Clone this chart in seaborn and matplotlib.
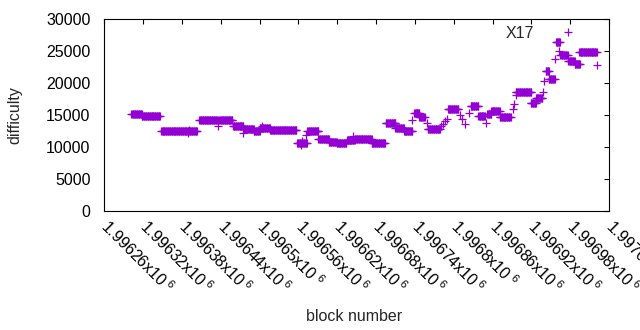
import numpy as np
import pandas as pd
import matplotlib
matplotlib.use("Agg")
import matplotlib.pyplot as plt
from matplotlib.lines import Line2D
import seaborn as sns

# runs of consecutive blocks that share (roughly) one difficulty
run_start = [1996302, 1996318, 1996348, 1996389, 1996391, 1996407, 1996436, 1996438,
             1996459, 1996475, 1996476, 1996491, 1996500, 1996504, 1996516, 1996558,
             1996564, 1996566, 1996572, 1996574, 1996591, 1996607, 1996619, 1996635,
             1996645, 1996647, 1996673, 1996695, 1996710, 1996723, 1996736, 1996739,
             1996747, 1996758, 1996760, 1996781, 1996784, 1996787, 1996789, 1996791,
             1996809, 1996813, 1996817, 1996824, 1996826, 1996838, 1996850, 1996852,
             1996858, 1996871, 1996892, 1996893, 1996896, 1996896, 1996919, 1996927,
             1996938, 1996940, 1996942, 1996947, 1996957, 1996958, 1996963, 1996965,
             1996977, 1996987, 1996994, 1997021]
run_end = [1996318, 1996346, 1996403, 1996389, 1996391, 1996435, 1996436, 1996458,
           1996475, 1996475, 1996491, 1996500, 1996516, 1996504, 1996557, 1996573,
           1996564, 1996566, 1996572, 1996591, 1996607, 1996619, 1996634, 1996647,
           1996645, 1996673, 1996694, 1996710, 1996723, 1996736, 1996736, 1996747,
           1996755, 1996758, 1996779, 1996781, 1996784, 1996787, 1996789, 1996807,
           1996809, 1996813, 1996817, 1996824, 1996838, 1996848, 1996850, 1996858,
           1996871, 1996888, 1996892, 1996893, 1996896, 1996920, 1996927, 1996937,
           1996938, 1996940, 1996947, 1996956, 1996957, 1996964, 1996963, 1996976,
           1996987, 1996995, 1997021, 1997021]
run_difficulty = [15150, 14850, 12450, 12140, 12730, 14170, 13330, 14170,
                  13230, 12230, 12860, 12500, 13020, 13280, 12600, 10550,
                  10250, 10900, 11900, 12500, 11200, 10800, 10580, 11090,
                  11720, 11200, 10550, 13700, 12920, 12450, 14170, 15260,
                  14730, 13700, 12760, 13280, 13590, 14060, 14400, 15890,
                  15000, 14300, 13600, 15260, 16400, 14840, 13800, 15150,
                  15670, 14730, 15900, 16720, 18125, 18550, 16830, 17600,
                  18640, 20360, 21920, 20625, 23750, 26460, 25050, 24380,
                  23440, 22970, 24800, 22810]

blocks = []
difficulty = []
for s, e, d in zip(run_start, run_end, run_difficulty):
    for b in range(s, e + 1):
        blocks.append(b)
        difficulty.append(d)
df = pd.DataFrame({"block": blocks, "difficulty": difficulty})

x_ticks = [1996260 + 60 * k for k in range(14)]
y_ticks = [0, 5000, 10000, 15000, 20000, 25000, 30000]

sns.set_style("white")
plt.rcParams['font.family'] = ['Liberation Sans', 'DejaVu Sans']
plt.rcParams['mathtext.fontset'] = 'custom'
plt.rcParams['mathtext.rm'] = 'Liberation Sans'
plt.rcParams['mathtext.it'] = 'Liberation Sans'

purple = '#9400D3'
fs = 11.5

fig = plt.figure(figsize=(6.4, 3.3), dpi=100)
ax = fig.add_axes([0.163, 0.3606, 0.7886, 0.5818])

sns.scatterplot(data=df, x="block", y="difficulty", ax=ax, marker='+',
                s=30, linewidth=0.9, color=purple, legend=False)

ax.set_xlim(1996260, 1997040)
ax.set_ylim(0, 30000)
ax.set_xticks(x_ticks)
ax.set_xticklabels(["{:.6g}x10$^{{\\ 6}}$".format(v / 1e6) for v in x_ticks],
                   rotation=-45, rotation_mode='anchor', ha='left', va='center')
ax.set_yticks(y_ticks)
ax.tick_params(direction='in', length=3.5, width=0.8, top=True, right=True,
               labelsize=fs, colors='black')
ax.tick_params(axis='y', pad=10)
ax.tick_params(axis='x', pad=9)
for sp in ax.spines.values():
    sp.set_visible(True)
    sp.set_color('black')
    sp.set_linewidth(0.8)

ax.set_xlabel("block number", fontsize=fs)
ax.set_ylabel("difficulty", fontsize=fs)
ax.xaxis.set_label_coords(0.495, -0.51)
ax.yaxis.set_label_coords(-0.162, 0.5)

handle = Line2D([], [], linestyle='none', marker='+', markersize=5.5,
                markeredgewidth=0.9, color=purple)
leg = ax.legend([handle], ['X17'], loc='upper right', frameon=False,
                markerfirst=False, fontsize=fs, handlelength=2.0,
                handletextpad=1.12, bbox_to_anchor=(0.978, 1.041))

fig.savefig("out.png", dpi=100)
